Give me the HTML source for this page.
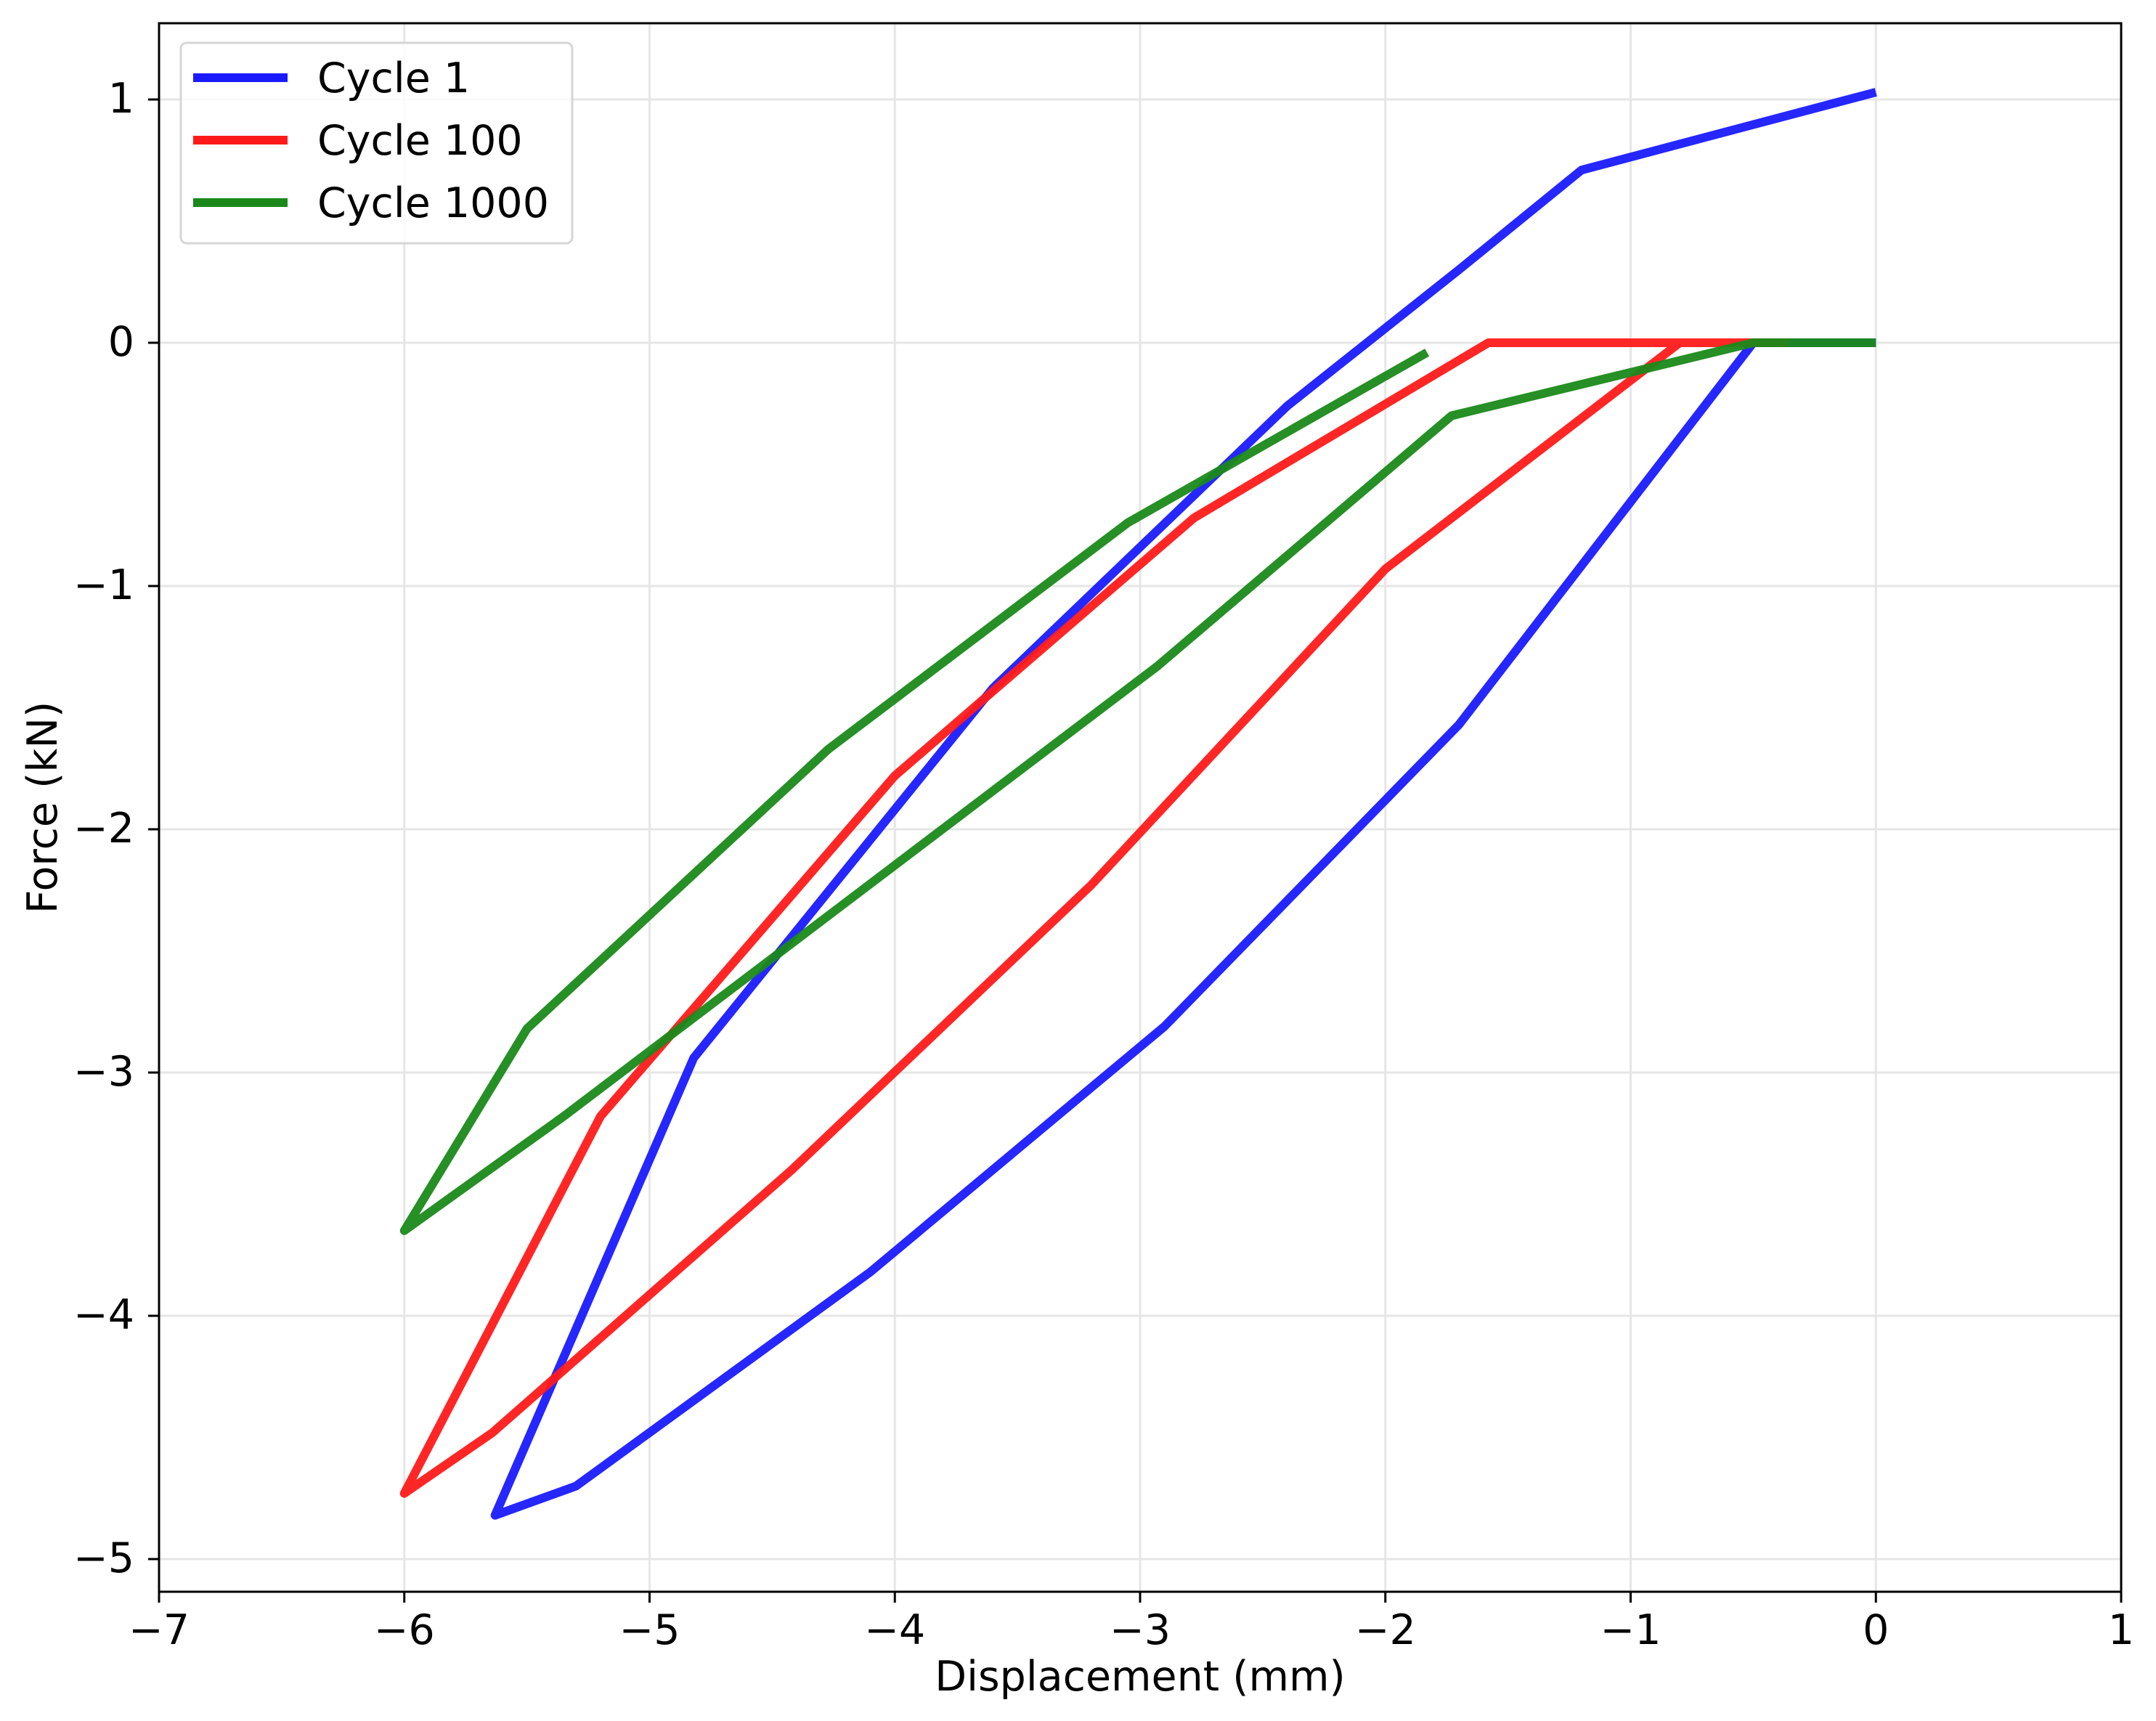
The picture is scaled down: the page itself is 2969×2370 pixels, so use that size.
<!DOCTYPE html>
<html><head><meta charset="utf-8"><style>body{margin:0;background:#fff}svg{display:block}text{font-family:"DejaVu Sans","Liberation Sans",sans-serif;fill:#000}</style></head>
<body>
<svg id="chart" width="2969" height="2370" viewBox="0 0 2969 2370" xmlns="http://www.w3.org/2000/svg">
<g id="grid"></g>
<g id="series"></g>
<rect x="219" y="32" width="2702" height="2160" fill="none" stroke="#000" stroke-width="3"/>
<g id="ticks"></g>
<text x="1570" y="2328" font-size="57" text-anchor="middle">Displacement (mm)</text>
<text x="78" y="1112" font-size="57" text-anchor="middle" transform="rotate(-90 78 1112)">Force (kN)</text>
<g id="legend">
<rect x="249" y="59" width="539" height="276" rx="8" fill="#fff" fill-opacity="0.8" stroke="#d6d6d6" stroke-width="3"/>
</g>
</svg>
<script>
const xTicks=[-7,-6,-5,-4,-3,-2,-1,0,1];
const yTicks=[1,0,-1,-2,-3,-4,-5];
const seriesNames=["Cycle 1","Cycle 100","Cycle 1000"];
const seriesColors=["#1a1aff","#ff1a1a","#1a891a"];
const c1x=[0,-1.2,-1.7,-2.4,-3.6,-4.82,-5.63,-5.3,-4.1,-2.9,-1.7,-0.5,0];
const c1y=[1.03,0.71,0.3,-0.26,-1.42,-2.94,-4.82,-4.7,-3.82,-2.81,-1.57,0,0];
const c100x=[-0.35,-1.58,-2.78,-4,-5.2,-6,-5.64,-4.42,-3.2,-2,-0.8,-0.35];
const c100y=[0,0,-0.72,-1.78,-3.18,-4.73,-4.48,-3.4,-2.23,-0.93,0,0];
const c1000x=[-1.83,-3.05,-4.27,-5.5,-6,-5.35,-2.93,-1.73,-0.5,0];
const c1000y=[-0.04,-0.74,-1.67,-2.82,-3.65,-3.18,-1.33,-0.3,0,0];
const xs=[c1x,c100x,c1000x], ys=[c1y,c100y,c1000y];
const NS="http://www.w3.org/2000/svg";
const X=v=>219+(v+7)*337.75;
const Y=v=>137+(1-v)*335;
function mk(t,a,p){const e=document.createElementNS(NS,t);for(const k in a)e.setAttribute(k,a[k]);p.appendChild(e);return e;}
const grid=document.getElementById('grid'),ticks=document.getElementById('ticks'),ser=document.getElementById('series'),leg=document.getElementById('legend');
xTicks.forEach(v=>{
 const g=mk('line',{x1:X(v),x2:X(v),y1:32,y2:2192,stroke:'#e6e6e6','stroke-width':3},grid);
 
 
 const t=mk('line',{x1:X(v),x2:X(v),y1:2192,y2:2207,stroke:'#000','stroke-width':3},ticks);
 
 
 const l=mk('text',{x:X(v),y:2264,'font-size':57,'text-anchor':'middle'},ticks);
 l.textContent=(v<0?'\u2212':'')+Math.abs(v);
 
 
});
yTicks.forEach(v=>{
 const g=mk('line',{x1:219,x2:2921,y1:Y(v),y2:Y(v),stroke:'#e6e6e6','stroke-width':3},grid);
 
 
 const t=mk('line',{x1:204,x2:219,y1:Y(v),y2:Y(v),stroke:'#000','stroke-width':3},ticks);
 
 
 const l=mk('text',{x:185,y:Y(v)+18,'font-size':57,'text-anchor':'end'},ticks);
 l.textContent=(v<0?'\u2212':'')+Math.abs(v);
 
 
});
xs.forEach((xa,i)=>{
 const pts=xa.map((x,j)=>X(x)+','+Y(ys[i][j])).join(' ');
 const p=mk('polyline',{points:pts,fill:'none',stroke:seriesColors[i],'stroke-width':12,'stroke-linejoin':'round','stroke-opacity':0.95},ser);
 
 
 const ly=107+i*86;
 const ll=mk('line',{x1:266,x2:396,y1:ly,y2:ly,stroke:seriesColors[i],'stroke-width':12},leg);
 
 
 const lt=mk('text',{x:437,y:ly+20,'font-size':57},leg);
 lt.textContent=seriesNames[i];
 
 
});
</script>
</body></html>
